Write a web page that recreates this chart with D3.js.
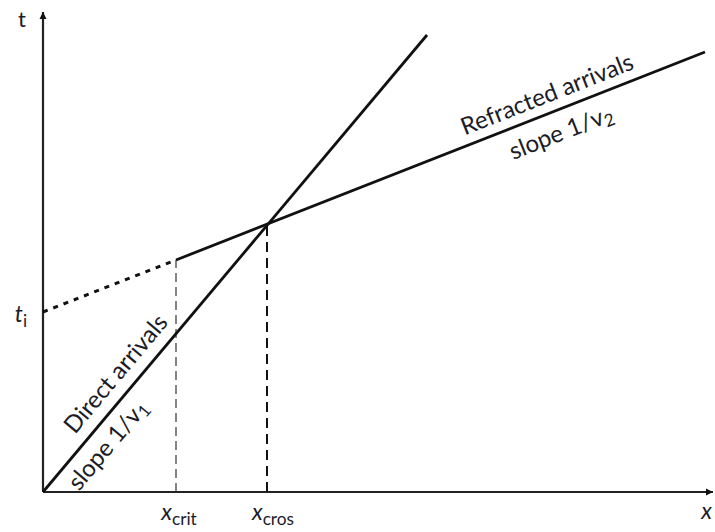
<!DOCTYPE html>
<html><head><meta charset="utf-8">
<script src="https://cdn.jsdelivr.net/npm/d3@7"></script>
<style>body{margin:0;background:#fff}svg{display:block}text{font-family:Lato,"Open Sans",sans-serif;fill:#1c1c28}</style>
</head><body>
<svg id="c" width="715" height="532"></svg>
<script>
// data (distance x, time t) in arbitrary units
const directLine = [[0, 0], [384, 457]];
const interceptLine = [[0, 180], [133, 232]];
const refractedLine = [[133, 232], [662, 440]];
const xCrit = 133, tCrit = 232;
const xCros = 224, tCros = 268;
const ti = 180;

const svg = d3.select("#c");
const x = d3.scaleLinear().domain([0, 670]).range([43, 713]);
const y = d3.scaleLinear().domain([0, 480]).range([492, 12]);
const line = d3.line().x(d => x(d[0])).y(d => y(d[1]));

svg.append("defs").append("marker").attr("id", "arr").attr("viewBox", "0 0 10 10")
  .attr("refX", 10).attr("refY", 5).attr("markerWidth", 7).attr("markerHeight", 10)
  .attr("markerUnits", "userSpaceOnUse").attr("orient", "auto")
  .append("path").attr("d", "M0,0L10,5L0,10z").attr("fill", "#111");

// axes
svg.append("line").attr("x1", x(0)).attr("y1", y(0)).attr("x2", x(0)).attr("y2", y(480))
  .attr("stroke", "#222").attr("stroke-width", 2.2).attr("marker-end", "url(#arr)");
svg.append("line").attr("x1", x(0)).attr("y1", y(0)).attr("x2", x(670)).attr("y2", y(0))
  .attr("stroke", "#222").attr("stroke-width", 2.2).attr("marker-end", "url(#arr)");

// dashed verticals
svg.append("line").attr("x1", x(xCrit)).attr("x2", x(xCrit)).attr("y1", y(0)).attr("y2", y(tCrit))
  .attr("stroke", "#333").attr("stroke-width", 1.2).attr("stroke-dasharray", "9,5");
svg.append("line").attr("x1", x(xCros)).attr("x2", x(xCros)).attr("y1", y(0)).attr("y2", y(tCros))
  .attr("stroke", "#111").attr("stroke-width", 2).attr("stroke-dasharray", "10,6");

// intercept dotted
svg.append("path").attr("d", line(interceptLine)).attr("fill", "none")
  .attr("stroke", "#111").attr("stroke-width", 3).attr("stroke-dasharray", "5,6");

svg.append("path").attr("d", line(directLine)).attr("fill", "none")
  .attr("stroke", "#111").attr("stroke-width", 2.8);
svg.append("path").attr("d", line(refractedLine)).attr("fill", "none")
  .attr("stroke", "#111").attr("stroke-width", 2.8);

function angleOf(seg) {
  return Math.atan2(y(seg[1][1]) - y(seg[0][1]), x(seg[1][0]) - x(seg[0][0])) * 180 / Math.PI;
}
function rotLabel(px, py, ang, parts, size) {
  const t = svg.append("text").attr("transform", `translate(${px},${py}) rotate(${ang})`)
    .attr("text-anchor", "middle").style("font-size", size + "px");
  parts.forEach(p => {
    const s = t.append("tspan").text(p.t);
    if (p.sub) s.attr("baseline-shift", "-25%").style("font-size", (size * 0.72) + "px");
  });
  return t;
}
const aD = angleOf(directLine), aR = angleOf(refractedLine);
rotLabel(122, 379, aD, [{t: "Direct arrivals"}], 24);
rotLabel(114, 450, aD, [{t: "slope 1/v"}, {t: "1", sub: true}], 24);
rotLabel(550, 102, aR, [{t: "Refracted arrivals"}], 24);
rotLabel(564, 140, aR, [{t: "slope 1/v"}, {t: "2", sub: true}], 24);

// axis labels
function label(px, py, parts, size, anchor) {
  const t = svg.append("text").attr("x", px).attr("y", py).attr("text-anchor", anchor || "middle")
    .style("font-size", size + "px");
  parts.forEach(p => {
    const s = t.append("tspan").text(p.t);
    if (p.it) s.style("font-style", "italic");
    if (p.sub) s.attr("baseline-shift", "-30%").style("font-size", (size * 0.75) + "px");
  });
}
label(22, 27, [{t: "t"}], 22);
label(21, 322, [{t: "t", it: true}, {t: "i", sub: true}], 23);
label(x(xCrit) + 3, 520, [{t: "x", it: true}, {t: "crit", sub: true}], 23);
label(x(xCros) + 6, 520, [{t: "x", it: true}, {t: "cros", sub: true}], 23);
label(712, 519, [{t: "x", it: true}], 23, "end");
</script>
</body></html>
